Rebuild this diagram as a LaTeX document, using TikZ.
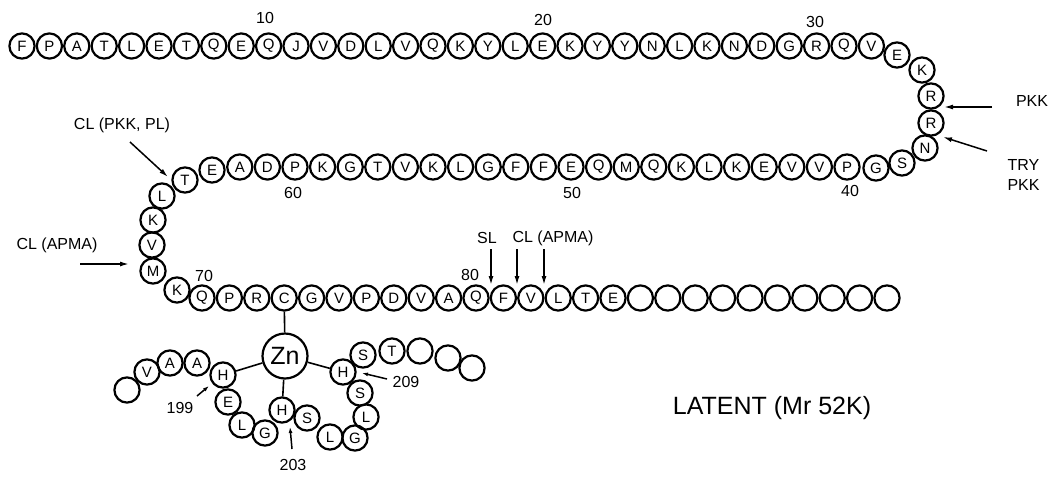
\documentclass[tikz,border=0pt]{standalone}
\usepackage{fontspec}
\setmainfont{Liberation Sans}
\usetikzlibrary{arrows.meta}
\begin{document}
\begin{tikzpicture}[x=1pt,y=-1pt,
  res/.style={circle,draw,line width=2.2pt,minimum size=25.2pt,inner sep=0pt,font=\fontsize{15}{15}\selectfont},
  lbl/.style={font=\fontsize{16}{20}\selectfont},
  num/.style={font=\fontsize{16}{16}\selectfont},
  arr/.style={-{Latex[length=9pt,width=5pt]},line width=1.5pt},
  bond/.style={line width=1.6pt}]
\useasboundingbox (0,0) rectangle (1059,477);
% top row 1..32
\foreach \l [count=\i] in {F,P,A,T,L,E,T,Q,E,Q,J,V,D,L,V,Q,K,Y,L,E,K,Y,Y,N,L,K,N,D,G,R,Q,V}
  \node[res] (r\i) at ({22+(\i-1)*27.4},46) {\l};
% turn
\node[res] (r33) at (897,55) {E};
\node[res] (r34) at (922,70) {K};
\node[res] (r35) at (931,96) {R};
\node[res] (r36) at (931,123) {R};
\node[res] (r37) at (925,148) {N};
\node[res] (r38) at (902,163) {S};
\node[res] (r39) at (876,168) {G};
% second row 40..62
\foreach \l [count=\i from 40] in {P,V,V,E,K,L,K,Q,M,Q,E,F,F,G,L,K,V,T,G,K,P,D,A}
  \node[res] (r\i) at ({847-(\i-40)*27.6},167) {\l};
\node[res] (r63) at (212,170) {E};
\node[res] (r64) at (185,180) {T};
\node[res] (r65) at (162,196) {L};
\node[res] (r66) at (153,220) {K};
\node[res] (r67) at (152,245) {V};
\node[res] (r68) at (153,271) {M};
\node[res] (r69) at (177,290) {K};
% third row 70..95
\foreach \l [count=\i from 70] in {Q,P,R,C,G,V,P,D,V,A,Q,F,V,L,T,E,{},{},{},{},{},{},{},{},{},{}}
  \node[res] (r\i) at ({202+(\i-70)*27.4},298) {\l};
% position numbers
\node[num] (n10) at (265,18) {10};
\node[num] (n20) at (543,20) {20};
\node[num] (n30) at (815,22) {30};
\node[num] (n40) at (850,191) {40};
\node[num] (n50) at (572,193) {50};
\node[num] (n60) at (293,193) {60};
\node[num] (n70) at (204,276) {70};
\node[num] (n80) at (470,275) {80};
% cleavage labels and arrows
\node[lbl] (pkk1) at (1032,101) {PKK};
\coordinate (pkk1s) at (992,107);
\coordinate (pkk1e) at (944,107);
\draw[arr] (pkk1s) -- (pkk1e);
\node[lbl,align=left,anchor=west] (trypkk) at (1004,175) {TRY\\PKK};
\coordinate (trys) at (987,151);
\coordinate (trye) at (943,137);
\draw[arr] (trys) -- (trye);
\node[lbl] (clpkk) at (122,125) {CL (PKK, PL)};
\coordinate (clpkks) at (130,142);
\coordinate (clpkke) at (168,177);
\draw[arr] (clpkks) -- (clpkke);
\node[lbl] (clapma1) at (57,245) {CL (APMA)};
\coordinate (clapma1s) at (80,264);
\coordinate (clapma1e) at (129,264);
\draw[arr] (clapma1s) -- (clapma1e);
\node[lbl] (sl) at (487,238) {SL};
\node[lbl] (clapma2) at (553,238) {CL (APMA)};
\coordinate (a1s) at (491,249);
\coordinate (a1e) at (491,285);
\coordinate (a2s) at (517,249);
\coordinate (a2e) at (517,285);
\coordinate (a3s) at (544,249);
\coordinate (a3e) at (544,285);
\draw[arr] (a1s) -- (a1e);
\draw[arr] (a2s) -- (a2e);
\draw[arr] (a3s) -- (a3e);
% zinc cluster
\node[circle,draw,line width=2.2pt,minimum size=45pt,inner sep=0pt,font=\fontsize{25}{25}\selectfont] (zn) at (285,356) {Zn};
\node[res] (c1) at (127,390) {};
\node[res] (c2) at (147,372) {V};
\node[res] (c3) at (170,363) {A};
\node[res] (c4) at (197,363) {A};
\node[res] (h199) at (223,375) {H};
\node[res] (c6) at (228,402) {E};
\node[res] (c7) at (242,425) {L};
\node[res] (c8) at (265,433) {G};
\node[res] (h203) at (282,410) {H};
\node[res] (c10) at (307,418) {S};
\node[res] (c11) at (330,437) {L};
\node[res] (c12) at (355,438) {G};
\node[res] (c13) at (366,417) {L};
\node[res] (c14) at (360,393) {S};
\node[res] (h209) at (343,372) {H};
\node[res] (c16) at (363,355) {S};
\node[res] (c17) at (392,351) {T};
\node[res] (c18) at (420,351) {};
\node[res] (c19) at (448,358) {};
\node[res] (c20) at (472,368) {};
\draw[bond] (r73) -- (zn);
\draw[bond] (zn) -- (h199);
\draw[bond] (zn) -- (h203);
\draw[bond] (zn) -- (h209);
\node[num] (l199) at (180,408) {199};
\coordinate (l199s) at (197,396);
\coordinate (l199e) at (209,386);
\draw[arr,-{Latex[length=6pt,width=4pt]}] (l199s) -- (l199e);
\node[num] (l203) at (293,465) {203};
\coordinate (l203s) at (292,449);
\coordinate (l203e) at (290,427);
\draw[arr,-{Latex[length=6pt,width=4pt]}] (l203s) -- (l203e);
\node[num] (l209) at (406,382) {209};
\coordinate (l209s) at (387,379);
\coordinate (l209e) at (362,373);
\draw[arr,-{Latex[length=6pt,width=4pt]}] (l209s) -- (l209e);
\node[font=\fontsize{25}{25}\selectfont] (latent) at (772,408) {LATENT (Mr 52K)};
\end{tikzpicture}
\end{document}
